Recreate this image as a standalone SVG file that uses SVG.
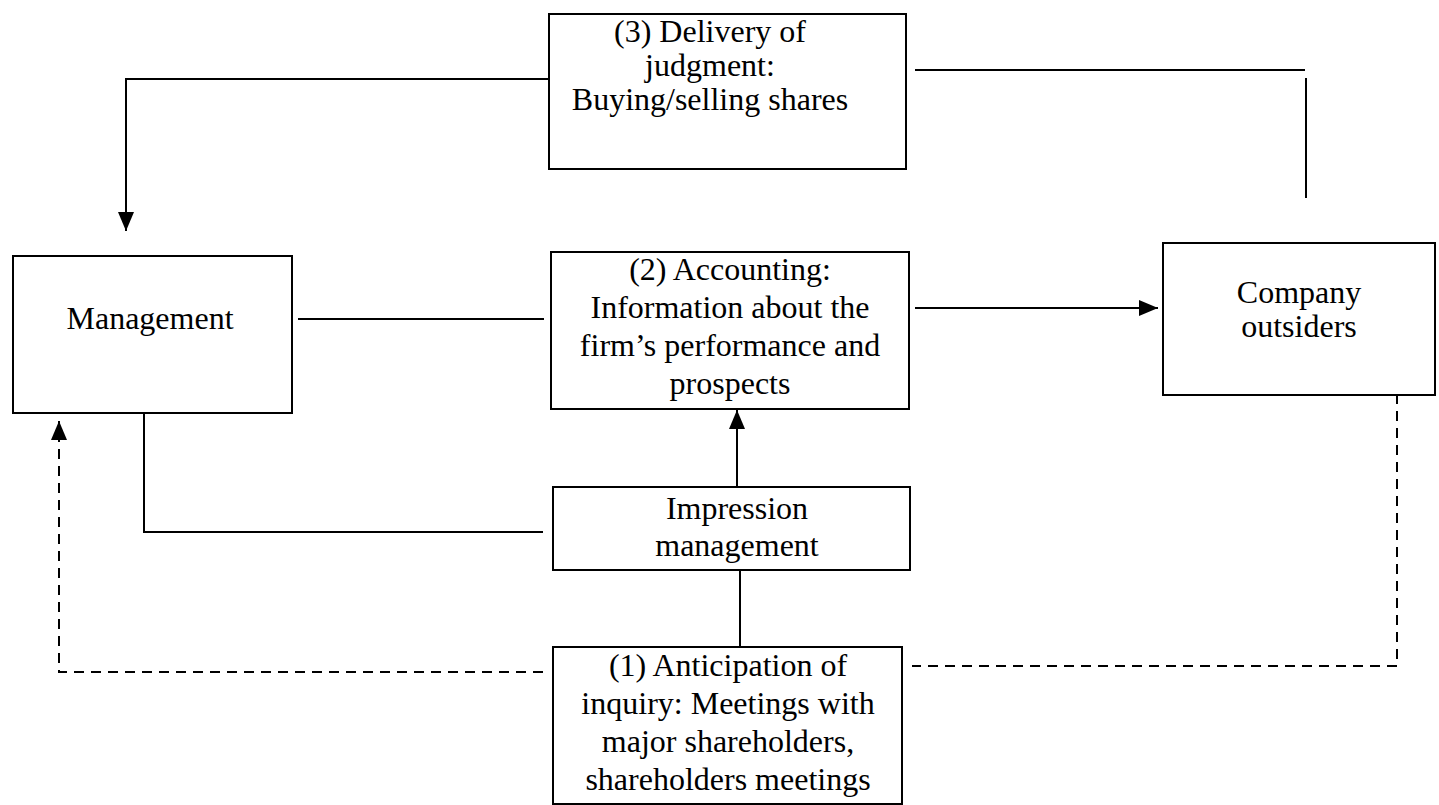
<svg xmlns="http://www.w3.org/2000/svg" width="1439" height="805" viewBox="0 0 1439 805">
  <style>
    .box { fill: #fff; stroke: #000; stroke-width: 2; }
    .t { font-family: "Liberation Serif", "Times New Roman", serif; font-size: 32px; text-anchor: middle; fill: #000; }
    .c { fill: none; stroke: #000; stroke-width: 2; }
    .d { stroke-dasharray: 10 7; }
  </style>
  <defs>
    <marker id="head" viewBox="0 0 19 16" refX="19" refY="8" markerWidth="19" markerHeight="16" markerUnits="userSpaceOnUse" orient="auto">
      <path d="M0,0 L19,8 L0,16 Z" fill="#000"/>
    </marker>
  </defs>
  <rect width="1439" height="805" fill="#fff"/>

  <g id="connectors">
    <path class="c" d="M548,79 H126 V231" marker-end="url(#head)"/>
    <path class="c" d="M915,70 H1305"/>
    <path class="c" d="M1306,78 V198"/>
    <path class="c" d="M298,319 H544"/>
    <path class="c" d="M915,308 H1158" marker-end="url(#head)"/>
    <path class="c" d="M737,498 V410" marker-end="url(#head)"/>
    <path class="c" d="M144,413 V532 H543"/>
    <path class="c" d="M740,557 V648"/>
    <path class="c d" d="M543,672 H59 V421" marker-end="url(#head)"/>
    <path class="c d" d="M1397,394 V666 H912"/>
  </g>

  <g id="delivery">
    <rect class="box" x="549" y="14" width="357" height="155"/>
    <text class="t" x="710" y="42">(3) Delivery of</text>
    <text class="t" x="710" y="76">judgment:</text>
    <text class="t" x="710" y="110">Buying/selling shares</text>
  </g>

  <g id="management">
    <rect class="box" x="13" y="256" width="279" height="157"/>
    <text class="t" x="150" y="329">Management</text>
  </g>

  <g id="accounting">
    <rect class="box" x="551" y="252" width="358" height="157"/>
    <text class="t" x="730" y="280">(2) Accounting:</text>
    <text class="t" x="730" y="318">Information about the</text>
    <text class="t" x="730" y="356">firm’s performance and</text>
    <text class="t" x="730" y="394">prospects</text>
  </g>

  <g id="outsiders">
    <rect class="box" x="1163" y="243" width="272" height="152"/>
    <text class="t" x="1299" y="303">Company</text>
    <text class="t" x="1299" y="337">outsiders</text>
  </g>

  <g id="impression">
    <rect class="box" x="553" y="487" width="357" height="83"/>
    <text class="t" x="737" y="519">Impression</text>
    <text class="t" x="737" y="556">management</text>
  </g>

  <g id="anticipation">
    <rect class="box" x="553" y="647" width="349" height="157"/>
    <text class="t" x="728" y="676">(1) Anticipation of</text>
    <text class="t" x="728" y="714">inquiry: Meetings with</text>
    <text class="t" x="728" y="752">major shareholders,</text>
    <text class="t" x="728" y="790">shareholders meetings</text>
  </g>
</svg>
